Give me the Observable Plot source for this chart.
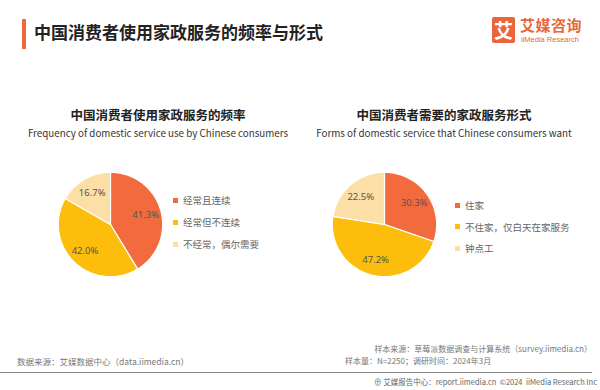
<!DOCTYPE html>
<html><head><meta charset="utf-8">
<script src="https://cdn.jsdelivr.net/npm/d3@7"></script>
<script src="https://cdn.jsdelivr.net/npm/@observablehq/plot@0.6"></script>
<style>
body{margin:0;background:#fff;font-family:"Noto Sans CJK SC","Noto Sans",sans-serif;}
#wrap{position:relative;width:600px;height:390px;overflow:hidden;background:#fff;}
.abs{position:absolute;white-space:nowrap;line-height:1.2;}
.ct{font-weight:bold;font-size:12.5px;color:#222;transform:translateX(-50%);}
.ce{font-size:9.8px;color:#333;transform:translateX(-50%);}
.lg{font-size:9.5px;color:#666;}
.lg i{display:inline-block;width:5px;height:5px;margin-right:5px;vertical-align:middle;position:relative;top:-1px;}
.ft{font-size:8px;color:#777;}
</style></head>
<body><div id="wrap"></div>
<script>
const catsA = ["经常且连续","经常但不连续","不经常，偶尔需要"];
const valsA = [41.3, 42.0, 16.7];
const catsB = ["住家","不住家，仅白天在家服务","钟点工"];
const valsB = [30.3, 47.2, 22.5];
const colors = ["#F26B3F","#FCBD0C","#FCDFA6"];

const wrap = document.getElementById("wrap");
function add(html, cls, left, top, style=""){
  const d=document.createElement("div");d.className="abs "+(cls||"");
  d.style.left=left+"px";d.style.top=top+"px";if(style)d.style.cssText+=style;
  d.innerHTML=html;wrap.appendChild(d);return d;
}
// header
add("", "", 22, 19, "width:3.5px;height:30px;background:#EE6A3C;");
add("中国消费者使用家政服务的频率与形式","",34,22,"font-size:17px;font-weight:bold;color:#222;");
add("艾","",492,17,"width:23px;height:26px;background:#E8663A;color:#fff;font-size:19px;font-weight:bold;text-align:center;line-height:26px;border-radius:2px;");
add("艾媒咨询","",520,16,"font-size:15px;font-weight:bold;color:#E8663A;letter-spacing:0.5px;line-height:18px;");
add("iiMedia Research","",521,35,"font-size:7.5px;color:#E8663A;line-height:9px;font-family:'Liberation Sans',sans-serif;");

function pie(cats, vals, cx, cy, titleZh, titleEn, tx, legX, legY, legGap){
  let acc=0; const pts=[]; const labs=[];
  const tot=d3.sum(vals);
  vals.forEach((v,i)=>{
    const a0=acc/tot*2*Math.PI, a1=(acc+v)/tot*2*Math.PI; acc+=v;
    pts.push({cat:cats[i],x:0,y:0});
    const n=Math.max(2,Math.ceil((a1-a0)/0.02));
    for(let k=0;k<=n;k++){const a=a0+(a1-a0)*k/n;pts.push({cat:cats[i],x:Math.sin(a),y:Math.cos(a)});}
    const m=(a0+a1)/2;
    labs.push({cat:cats[i],x:0.7*Math.sin(m),y:0.7*Math.cos(m),t:v.toFixed(1)+"%"});
  });
  const p = Plot.plot({
    width:120,height:120,margin:0,
    x:{domain:[-1.15,1.15],axis:null},
    y:{domain:[-1.15,1.15],axis:null},
    color:{domain:cats,range:colors},
    marks:[
      Plot.line(pts,{x:"x",y:"y",z:"cat",fill:"cat",stroke:"white",strokeWidth:1.2,curve:"linear-closed"}),
      Plot.text(labs,{x:"x",y:"y",text:"t",fill:"#555",fontSize:9.5})
    ]
  });
  p.style.position="absolute";p.style.left=(cx-60)+"px";p.style.top=(cy-60)+"px";
  wrap.appendChild(p);
  add(titleZh,"ct",tx,107);
  add(titleEn,"ce",tx,128);
  cats.forEach((c,i)=>add(`<i style="background:${colors[i]}"></i>${c}`,"lg",legX,legY+i*legGap-7));
}
pie(catsA,valsA,110,224,"中国消费者使用家政服务的频率","Frequency of domestic service use by Chinese consumers",158,173,202,22);
pie(catsB,valsB,383.5,223.5,"中国消费者需要的家政服务形式","Forms of domestic service that Chinese consumers want",444,455,207,21.5);

// footer
add("数据来源：艾媒数据中心（data.iimedia.cn）","ft",17,356,"font-size:8.5px;");
add("样本来源：草莓派数据调查与计算系统（survey.iimedia.cn）","ft",0,344,"left:auto;right:8px;");
add("样本量：N=2250；调研时间：2024年3月","ft",345,356);
add("","",0,372,"width:592px;height:1px;background:#888;");
add("⊕ 艾媒报告中心：report.iimedia.cn&nbsp;&nbsp;©2024&nbsp;&nbsp;iiMedia Research Inc","ft",374,377,"font-size:7.5px;color:#666;");
</script></body></html>
